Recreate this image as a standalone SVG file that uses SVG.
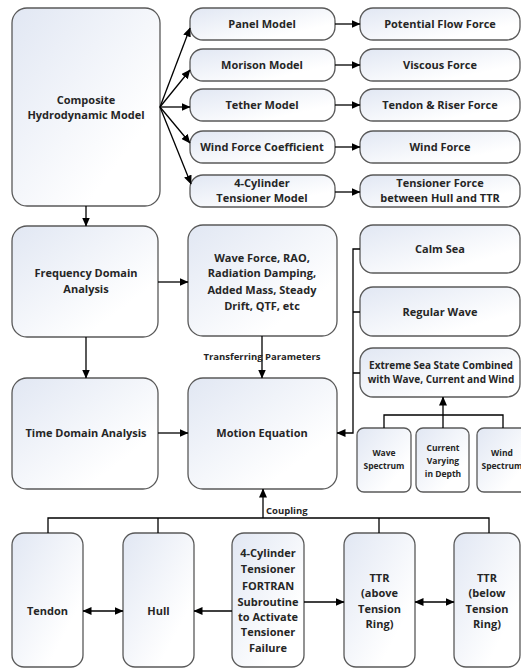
<svg xmlns="http://www.w3.org/2000/svg" width="521" height="668" viewBox="0 0 521 668">
<defs>
<linearGradient id="g" x1="0" y1="0" x2="1" y2="1">
<stop offset="0" stop-color="#e1e7f3"/>
<stop offset="0.75" stop-color="#ffffff"/>
</linearGradient>
<marker id="a" markerUnits="userSpaceOnUse" markerWidth="9" markerHeight="8" refX="8.5" refY="4" orient="auto-start-reverse">
<path d="M0,0 L9,4 L0,8 z" fill="#000"/>
</marker>
</defs>
<style>
.b{fill:url(#g);stroke:#595959;stroke-width:1.3}
.c{fill:none;stroke:#000;stroke-width:1.3}
.ar{marker-end:url(#a)}
.ar2{marker-start:url(#a);marker-end:url(#a)}
text{font-family:"Open Sans","Noto Sans","Liberation Sans",sans-serif;font-weight:bold;fill:#262626;text-anchor:middle;font-size:11px}
.s{font-size:8.5px}
.m{font-size:10px}
.t{font-size:9.5px}
.l{text-anchor:start}
</style>
<rect width="521" height="668" fill="#fff"/>
<g id="composite"><rect class="b" x="12" y="8" width="148" height="198" rx="15"/><text x="86" y="104">Composite</text><text x="86" y="119">Hydrodynamic Model</text></g>
<g id="panel"><rect class="b" x="190" y="8" width="145" height="32" rx="13"/><text x="262" y="28">Panel Model</text></g>
<g id="morison"><rect class="b" x="190" y="49" width="145" height="32" rx="13"/><text x="262" y="69">Morison Model</text></g>
<g id="tether"><rect class="b" x="190" y="89" width="145" height="32" rx="13"/><text x="262" y="109">Tether Model</text></g>
<g id="windcoef"><rect class="b" x="190" y="131" width="145" height="32" rx="13"/><text x="262" y="151">Wind Force Coefficient</text></g>
<g id="tensmodel"><rect class="b" x="190" y="175" width="145" height="32" rx="13"/><text x="262" y="187">4-Cylinder</text><text x="262" y="202">Tensioner Model</text></g>
<g id="potential"><rect class="b" x="360" y="8" width="160" height="32" rx="13"/><text x="440" y="28">Potential Flow Force</text></g>
<g id="viscous"><rect class="b" x="360" y="49" width="160" height="32" rx="13"/><text x="440" y="69">Viscous Force</text></g>
<g id="tendonriser"><rect class="b" x="360" y="89" width="160" height="32" rx="13"/><text x="440" y="109">Tendon &amp; Riser Force</text></g>
<g id="windforce"><rect class="b" x="360" y="131" width="160" height="32" rx="13"/><text x="440" y="151">Wind Force</text></g>
<g id="tensforce"><rect class="b" x="360" y="175" width="160" height="32" rx="13"/><text x="440" y="187">Tensioner Force</text><text x="440" y="202">between Hull and TTR</text></g>
<g id="freq"><rect class="b" x="12" y="226" width="146" height="111" rx="15"/><text x="86" y="277">Frequency Domain</text><text x="86" y="293">Analysis</text></g>
<g id="waveforce"><rect class="b" x="188" y="225" width="149" height="111" rx="15"/><text x="262" y="262">Wave Force, RAO,</text><text x="262" y="277">Radiation Damping,</text><text x="262" y="294">Added Mass, Steady</text><text x="262" y="310">Drift, QTF, etc</text></g>
<g id="time"><rect class="b" x="12" y="378" width="146" height="111" rx="15"/><text x="86" y="437">Time Domain Analysis</text></g>
<g id="motion"><rect class="b" x="188" y="378" width="149" height="111" rx="15"/><text x="262" y="437">Motion Equation</text></g>
<g id="calm"><rect class="b" x="360" y="225" width="160" height="48" rx="13"/><text x="440" y="253">Calm Sea</text></g>
<g id="regular"><rect class="b" x="360" y="287" width="160" height="49" rx="13"/><text x="440" y="316">Regular Wave</text></g>
<g id="extreme"><rect class="b" x="360" y="348" width="160" height="49" rx="13"/><text class="m" x="441" y="369">Extreme Sea State Combined</text><text class="m" x="441" y="383">with Wave, Current and Wind</text></g>
<g id="wavespec"><rect class="b" x="357" y="428" width="54" height="64" rx="7"/><text class="s" x="384" y="456">Wave</text><text class="s" x="384" y="469">Spectrum</text></g>
<g id="current"><rect class="b" x="416" y="428" width="53" height="64" rx="7"/><text class="s" x="443" y="451">Current</text><text class="s" x="443" y="464">Varying</text><text class="s" x="443" y="477">in Depth</text></g>
<g id="windspec"><rect class="b" x="477" y="428" width="53" height="64" rx="7"/><text class="s" x="502" y="456">Wind</text><text class="s" x="502" y="469">Spectrum</text></g>
<g id="tendon"><rect class="b" x="12" y="533" width="71" height="134" rx="12"/><text x="47.5" y="615">Tendon</text></g>
<g id="hull"><rect class="b" x="123" y="533" width="71" height="134" rx="12"/><text x="158.5" y="615">Hull</text></g>
<g id="fortran"><rect class="b" x="232" y="533" width="72" height="134" rx="12"/><text x="268" y="557">4-Cylinder</text><text x="268" y="573">Tensioner</text><text x="268" y="590">FORTRAN</text><text x="268" y="606">Subroutine</text><text x="268" y="621">to Activate</text><text x="268" y="636">Tensioner</text><text x="268" y="652">Failure</text></g>
<g id="ttrabove"><rect class="b" x="344" y="533" width="71" height="134" rx="12"/><text x="379.5" y="582">TTR</text><text x="379.5" y="597">(above</text><text x="379.5" y="613">Tension</text><text x="379.5" y="628">Ring)</text></g>
<g id="ttrbelow"><rect class="b" x="454" y="533" width="66" height="134" rx="12"/><text x="487" y="582">TTR</text><text x="487" y="597">(below</text><text x="487" y="613">Tension</text><text x="487" y="628">Ring)</text></g>
<g id="connectors">
<path class="c ar" d="M160,107 L190,28"/>
<path class="c ar" d="M160,107 L190,70"/>
<path class="c ar" d="M160,107 L190,107"/>
<path class="c ar" d="M160,107 L190,143"/>
<path class="c ar" d="M160,107 L191,184"/>
<path class="c ar" d="M335,24 H360"/>
<path class="c ar" d="M335,65 H360"/>
<path class="c ar" d="M335,105 H360"/>
<path class="c ar" d="M335,147 H360"/>
<path class="c ar" d="M335,192 H360"/>
<path class="c ar" d="M86,206 V226"/>
<path class="c ar" d="M86,337 V378"/>
<path class="c ar" d="M158,282 H188"/>
<path class="c ar" d="M262,336 V378"/>
<path class="c ar" d="M158,433 H188"/>
<path class="c ar" d="M360,249 H353 V433 H337"/>
<path class="c" d="M353,312 H360 M353,373 H360"/>
<path class="c" d="M384,428 V415 H503 V428"/>
<path class="c ar" d="M443,428 V397"/>
<path class="c ar" d="M263,518 V489"/>
<path class="c" d="M48,533 V518 H489 V533 M158,518 V533 M379,518 V533"/>
<path class="c ar2" d="M83,611 H123"/>
<path class="c ar" d="M232,611 H194"/>
<path class="c ar" d="M304,602 H344"/>
<path class="c ar2" d="M415,602 H454"/>
<text class="t" x="262" y="360">Transferring Parameters</text>
<text class="t l" x="266" y="514">Coupling</text>
</g>
</svg>
